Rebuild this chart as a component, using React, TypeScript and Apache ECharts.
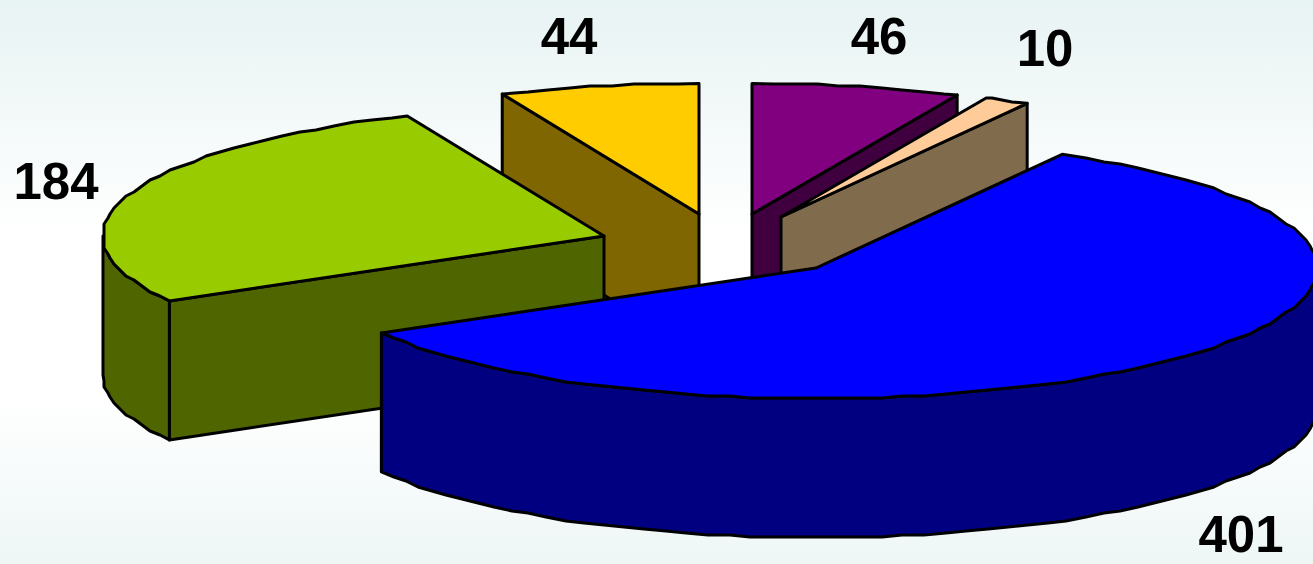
import React, { useEffect, useRef } from "react";
import * as echarts from "echarts";

// Values, clockwise from 12 o'clock
const sliceValues = [46, 10, 401, 184, 44];
const topColors = ["#800080", "#FFCC99", "#0000FF", "#99CC00", "#FFCC00"];
const sideColors = ["#400040", "#806B4C", "#000080", "#4F6600", "#806600"];

// Layout (not data): exploded apex of each slice, label anchors, paint order
const apexes = [[752, 214], [781, 217], [816, 268], [604, 236], [699, 214]];
const labelAnchors = [[879, 36], [1045, 48], [1241, 534], [56, 181], [569, 36]];
const paintOrder = [4, 0, 1, 3, 2];
const RX = 501, RY = 130.5, DEPTH = 139, STEP = 2.5;

const total = sliceValues.reduce((a, b) => a + b, 0);
const starts = sliceValues.map((_, i) => sliceValues.slice(0, i).reduce((a, b) => a + b, 0));

const snap = (v: number, g: number) => Math.round(v / g) * g;

function rimPoints(cx: number, cy: number, from: number, to: number) {
  const pts: number[][] = [];
  const at = (deg: number) => {
    const t = (deg * Math.PI) / 180;
    return [cx + RX * Math.sin(t), cy - RY * Math.cos(t)];
  };
  pts.push(at(from));
  for (let d = Math.ceil(from / STEP + 0.3) * STEP; d < to - STEP * 0.3; d += STEP) {
    const p = at(d);
    pts.push([snap(p[0], 2), snap(p[1], 2)]);
  }
  pts.push(at(to));
  return pts;
}

const down = (pts: number[][]) => pts.map((p) => [p[0], p[1] + DEPTH]);

function renderSlice(_params: any, api: any) {
  const value = api.value(0);
  const i = api.value(2);
  const from = (api.value(1) / total) * 360;
  const to = from + (value / total) * 360;
  const [cx, cy] = apexes[i];
  const stroke = { stroke: "#000", lineWidth: 3, lineJoin: "round" };
  const side = { fill: sideColors[i], ...stroke };
  const children: any[] = [];
  const poly = (points: number[][], style: any) =>
    children.push({ type: "polygon", shape: { points }, style });

  const radial = (deg: number) => {
    const e = rimPoints(cx, cy, deg, deg)[0];
    poly([[cx, cy], e, [e[0], e[1] + DEPTH], [cx, cy + DEPTH]], side);
  };
  // Cut faces that turn towards the viewer
  if (Math.cos(((from - 90) * Math.PI) / 180) < -1e-6) radial(from);
  if (Math.cos(((to + 90) * Math.PI) / 180) < -1e-6) radial(to);
  // Outer wall: only the front half of the rim
  const wallFrom = Math.max(from, 90), wallTo = Math.min(to, 270);
  if (wallTo > wallFrom) {
    const rim = rimPoints(cx, cy, wallFrom, wallTo);
    poly([...rim, ...down(rim).reverse()], side);
  }
  // Top
  poly([[cx, cy], ...rimPoints(cx, cy, from, to)], { fill: topColors[i], ...stroke });
  // Label
  children.push({
    type: "text",
    x: labelAnchors[i][0],
    y: labelAnchors[i][1],
    style: {
      text: String(value),
      fill: "#000",
      font: 'bold 51px "Liberation Sans", Arial, sans-serif',
      textAlign: "center",
      verticalAlign: "middle",
    },
  });
  return { type: "group", children };
}

export default function App() {
  const ref = useRef<HTMLDivElement>(null);
  useEffect(() => {
    document.body.style.margin = "0";
    const chart = echarts.init(ref.current!, undefined, { renderer: "svg" });
    chart.setOption({
      animation: false,
      backgroundColor: {
        type: "linear", x: 0, y: 0, x2: 0, y2: 1,
        colorStops: [
          { offset: 0, color: "#E8F3F3" },
          { offset: 0.42, color: "#FFFFFF" },
          { offset: 0.7, color: "#FFFFFF" },
          { offset: 1, color: "#EEF6F6" },
        ],
      },
      series: [{
        type: "custom",
        coordinateSystem: "none",
        silent: true,
        renderItem: renderSlice,
        data: paintOrder.map((i) => [sliceValues[i], starts[i], i]),
      }],
    });
    return () => chart.dispose();
  }, []);
  return <div ref={ref} style={{ width: 1313, height: 564 }} />;
}
